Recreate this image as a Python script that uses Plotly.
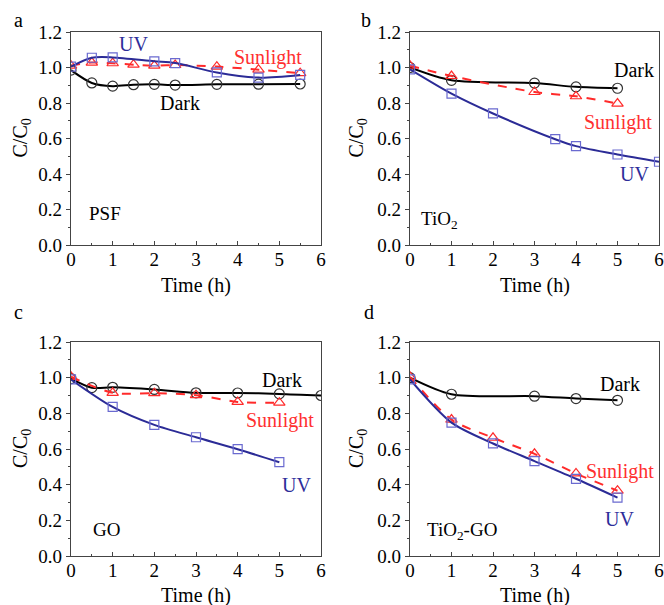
import plotly.graph_objects as go

# ---------------- data ----------------
# Panel a: PSF
a_dark_t = [0, 0.5, 1, 1.5, 2, 2.5, 3.5, 4.5, 5.5]
a_dark_c = [0.985, 0.913, 0.895, 0.903, 0.905, 0.901, 0.905, 0.906, 0.907]
a_sun_t = [0, 0.5, 1, 1.5, 2, 2.5, 3.5, 4.5, 5.5]
a_sun_c = [1.01, 1.028, 1.024, 1.016, 1.01, 1.014, 1.005, 0.988, 0.968]
a_uv_t = [0, 0.5, 1, 2, 2.5, 3.5, 4.5, 5.5]
a_uv_c = [1.005, 1.055, 1.057, 1.035, 1.025, 0.972, 0.943, 0.958]

# Panel b: TiO2
b_dark_t = [0, 1, 3, 4, 5]
b_dark_c = [1.0, 0.928, 0.912, 0.891, 0.883]
b_sun_t = [0, 1, 3, 4, 5]
b_sun_c = [1.01, 0.952, 0.862, 0.838, 0.797]
b_uv_t = [0, 1, 2, 3.5, 4, 5, 6]
b_uv_c = [0.99, 0.853, 0.741, 0.596, 0.557, 0.51, 0.469]

# Panel c: GO
c_dark_t = [0, 0.5, 1, 2, 3, 4, 5, 6]
c_dark_c = [0.995, 0.944, 0.946, 0.934, 0.915, 0.914, 0.909, 0.90]
c_sun_t = [0, 1, 2, 3, 4, 5]
c_sun_c = [1.005, 0.915, 0.913, 0.902, 0.864, 0.86]
c_uv_t = [0, 1, 2, 3, 4, 5]
c_uv_c = [0.99, 0.836, 0.735, 0.666, 0.599, 0.526]

# Panel d: TiO2-GO
d_dark_t = [0, 1, 3, 4, 5]
d_dark_c = [1.0, 0.907, 0.896, 0.883, 0.873]
d_sun_t = [0, 1, 2, 3, 4, 5]
d_sun_c = [1.005, 0.765, 0.663, 0.573, 0.463, 0.366]
d_uv_t = [0, 1, 2, 3, 4, 5]
d_uv_c = [0.99, 0.748, 0.631, 0.532, 0.433, 0.327]

panel_letters = ["a", "b", "c", "d"]
panel_names = ["PSF", "TiO<sub>2</sub>", "GO", "TiO<sub>2</sub>-GO"]
x_ticks = [0, 1, 2, 3, 4, 5, 6]
y_ticks = [0.0, 0.2, 0.4, 0.6, 0.8, 1.0, 1.2]
x_title = "Time (h)"
y_title = "C/C<sub>0</sub>"

# label positions (data coords): (text, x, y, color)
labels = {
    1: [("UV", 1.49, 1.135, "#2d2d9a"), ("Sunlight", 4.73, 1.056, "#ff3030"),
        ("Dark", 2.62, 0.80, "black")],
    2: [("Dark", 5.4, 0.984, "black"), ("Sunlight", 5.0, 0.688, "#ff3030"),
        ("UV", 5.4, 0.40, "#2d2d9a")],
    3: [("Dark", 5.06, 0.989, "black"), ("Sunlight", 5.02, 0.758, "#ff3030"),
        ("UV", 5.42, 0.40, "#2d2d9a")],
    4: [("Dark", 5.07, 0.967, "black"), ("Sunlight", 5.07, 0.472, "#ff3030"),
        ("UV", 5.04, 0.21, "#2d2d9a")],
}
name_pos = {1: (0.82, 0.178), 2: (0.7, 0.14), 3: (0.84, 0.146), 4: (1.26, 0.14)}

series = {
    1: [(a_dark_t, a_dark_c), (a_sun_t, a_sun_c), (a_uv_t, a_uv_c)],
    2: [(b_dark_t, b_dark_c), (b_sun_t, b_sun_c), (b_uv_t, b_uv_c)],
    3: [(c_dark_t, c_dark_c), (c_sun_t, c_sun_c), (c_uv_t, c_uv_c)],
    4: [(d_dark_t, d_dark_c), (d_sun_t, d_sun_c), (d_uv_t, d_uv_c)],
}

W, H = 664, 605
FONT = "Liberation Serif"
BLUE = "#2b2b96"
BLUE_M = "#6a6ad0"
RED = "#ff2a2a"

# pixel boxes of plot areas: (x0, x1, ytop, ybot)
boxes = {1: (71, 321, 32, 245), 2: (410, 659, 32, 245),
         3: (71, 321, 342, 556), 4: (410, 659, 342, 556)}
letter_pos = {1: (18, 20), 2: (366, 20), 3: (18, 312), 4: (369, 312)}
xtitle_y = {1: 286, 2: 286, 3: 595, 4: 595}
ytitle_x = {1: 21, 2: 357, 3: 21, 4: 357}

fig = go.Figure()
layout = dict(width=W, height=H, margin=dict(l=0, r=0, t=0, b=0, autoexpand=False),
              plot_bgcolor="white", paper_bgcolor="white", showlegend=False,
              font=dict(family=FONT, size=20, color="black"))
annotations = []

for i in range(1, 5):
    sx = "" if i == 1 else str(i)
    xa, ya = "x" + sx, "y" + sx
    (dt, dc), (st, sc), (ut, uc) = series[i]
    fig.add_trace(go.Scatter(x=dt, y=dc, xaxis=xa, yaxis=ya, mode="lines+markers",
                             line=dict(color="black", width=2, shape="spline", smoothing=0.8),
                             marker=dict(symbol="circle-open", size=10, color="#333333",
                                         line=dict(width=1.2))))
    fig.add_trace(go.Scatter(x=st, y=sc, xaxis=xa, yaxis=ya, mode="lines+markers",
                             line=dict(color=RED, width=2, dash="dash", shape="spline", smoothing=0.8),
                             marker=dict(symbol="triangle-up-open", size=10, color=RED,
                                         line=dict(width=1.2))))
    fig.add_trace(go.Scatter(x=ut, y=uc, xaxis=xa, yaxis=ya, mode="lines+markers",
                             line=dict(color=BLUE, width=2, shape="spline", smoothing=0.8),
                             marker=dict(symbol="square-open", size=9, color=BLUE_M,
                                         line=dict(width=1.2))))
    x0, x1, yt, yb = boxes[i]
    layout["xaxis" + sx] = dict(
        domain=[x0 / W, x1 / W], range=[0, 6], anchor=ya, automargin=False,
        tickvals=x_ticks, ticks="inside", ticklen=4, tickwidth=1,
        minor=dict(dtick=0.5, ticks="inside", ticklen=2, tickwidth=1),
        showline=True, linecolor="#444444", linewidth=1.2, mirror=True,
        showgrid=False, zeroline=False, ticklabelstandoff=-3,
        tickfont=dict(family=FONT, size=19))
    layout["yaxis" + sx] = dict(
        domain=[(H - yb) / H, (H - yt) / H], range=[0, 1.2], anchor=xa, automargin=False,
        tickvals=y_ticks, ticktext=["%.1f" % v for v in y_ticks],
        ticks="outside", ticklen=4, tickwidth=1,
        minor=dict(dtick=0.1, ticks="outside", ticklen=2, tickwidth=1),
        showline=True, linecolor="#444444", linewidth=1.2, mirror=True,
        showgrid=False, zeroline=False,
        tickfont=dict(family=FONT, size=19))
    # axis titles
    annotations.append(dict(text=x_title, x=(x0 + x1) / 2 / W, y=1 - xtitle_y[i] / H,
                            xref="paper", yref="paper", showarrow=False,
                            xanchor="center", yanchor="middle",
                            font=dict(family=FONT, size=20, color="black")))
    annotations.append(dict(text=y_title, x=ytitle_x[i] / W, y=1 - (yt + yb) / 2 / H,
                            xref="paper", yref="paper", showarrow=False, textangle=-90,
                            xanchor="center", yanchor="middle",
                            font=dict(family=FONT, size=20, color="black")))
    for (txt, lx, ly, col) in labels[i]:
        annotations.append(dict(text=txt, x=lx, y=ly, xref=xa, yref=ya, showarrow=False,
                                font=dict(family=FONT, size=20, color=col)))
    nx, ny = name_pos[i]
    annotations.append(dict(text=panel_names[i - 1], x=nx, y=ny, xref=xa, yref=ya,
                            showarrow=False, font=dict(family=FONT, size=19, color="black")))
    lpx, lpy = letter_pos[i]
    annotations.append(dict(text=panel_letters[i - 1], x=lpx / W, y=1 - lpy / H,
                            xref="paper", yref="paper", showarrow=False,
                            xanchor="center", yanchor="middle",
                            font=dict(family=FONT, size=20, color="black")))

layout["annotations"] = annotations
fig.update_layout(**layout)
fig.write_html("out.html")
